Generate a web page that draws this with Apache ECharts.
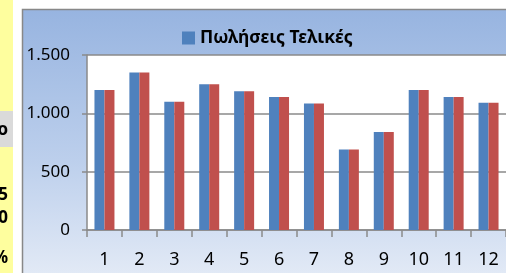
<!DOCTYPE html>
<html>
<head>
    <meta charset="utf-8">
    <title>Πωλήσεις</title>
    <script src="https://cdn.jsdelivr.net/npm/echarts@6/dist/echarts.min.js"></script>
    <style>
        html, body { margin: 0; padding: 0; background: #fff; }
    </style>
</head>
<body>
    <div id="main" style="width:506px;height:273px;"></div>
    <script type="text/javascript">

// months (categories)
var months = ['1', '2', '3', '4', '5', '6', '7', '8', '9', '10', '11', '12'];
// final sales
var salesFinal = [1200, 1350, 1100, 1250, 1190, 1140, 1085, 690, 840, 1200, 1140, 1090];
// second series (red), same heights in the picture
var salesOther = [1200, 1350, 1100, 1250, 1190, 1140, 1085, 690, 840, 1200, 1140, 1090];
// bits of spreadsheet cells visible on the left edge
var sideCells = [
    { text: 'ο', y: 130 },
    { text: '5', y: 195 },
    { text: '0', y: 218 },
    { text: '%', y: 258 }
];

var myChart = echarts.init(document.getElementById('main'));

var fontFam = '"Noto Sans", sans-serif';
var gray = '#8a8a8a';

var graphics = [
    // spreadsheet strip
    { type: 'rect', z: -100, shape: { x: 0, y: 0, width: 13, height: 273 }, style: { fill: '#fefe9e' } },
    { type: 'rect', z: -99, shape: { x: 0, y: 111, width: 13, height: 36 }, style: { fill: '#dadada' } },
    // chart area with gradient
    {
        type: 'rect', z: -100,
        shape: { x: 22.5, y: 9.5, width: 520, height: 300 },
        style: {
            fill: new echarts.graphic.LinearGradient(0, 0, 0, 1, [
                { offset: 0, color: '#97b4e0' },
                { offset: 0.5, color: '#bccfec' },
                { offset: 1, color: '#eef2f9' }
            ]),
            stroke: '#888', lineWidth: 1.5
        }
    }
];
sideCells.forEach(function (c) {
    graphics.push({
        type: 'text', z: -98,
        x: 8, y: c.y,
        style: {
            text: c.text, align: 'right', verticalAlign: 'middle',
            font: 'bold 17px ' + fontFam, fill: '#000'
        }
    });
});

var option = {
    backgroundColor: 'transparent',
    animation: false,
    graphic: graphics,
    legend: {
        data: ['Πωλήσεις Τελικές'],
        left: 182,
        top: 29,
        padding: 0,
        itemWidth: 13,
        itemHeight: 13,
        itemGap: 10,
        icon: 'rect',
        textStyle: { fontFamily: fontFam, fontWeight: 'bold', fontSize: 17.5, color: '#000', padding: [0, 0, 0, 0] }
    },
    grid: {
        left: 87,
        top: 55,
        width: 428,
        height: 175,
        show: true,
        backgroundColor: '#fff',
        borderWidth: 0,
        containLabel: false
    },
    xAxis: {
        type: 'category',
        data: months,
        axisLine: { lineStyle: { color: gray, width: 1.5 } },
        axisTick: { show: true, length: 7, lineStyle: { color: gray, width: 1.5 } },
        axisLabel: { fontFamily: fontFam, fontSize: 18, color: '#000', margin: 21 }
    },
    yAxis: {
        type: 'value',
        min: 0,
        max: 1500,
        interval: 500,
        axisLine: { show: true, lineStyle: { color: gray, width: 1.5 } },
        axisTick: { show: true, length: 5, lineStyle: { color: gray, width: 1.5 } },
        splitLine: { lineStyle: { color: gray, width: 1.5 } },
        axisLabel: {
            fontFamily: fontFam, fontSize: 17, color: '#000', margin: 17,
            formatter: function (v) {
                return String(v).replace(/\B(?=(\d{3})+(?!\d))/g, '.');
            }
        }
    },
    series: [{
        name: 'Πωλήσεις Τελικές',
        type: 'bar',
        data: salesFinal,
        barWidth: 10,
        barGap: '0%',
        itemStyle: { color: '#4f81bd' }
    }, {
        name: 'Σειρά 2',
        type: 'bar',
        data: salesOther,
        barWidth: 10,
        barGap: '0%',
        itemStyle: { color: '#c0504d' }
    }]
};

myChart.setOption(option);
    </script>
</body>
</html>
